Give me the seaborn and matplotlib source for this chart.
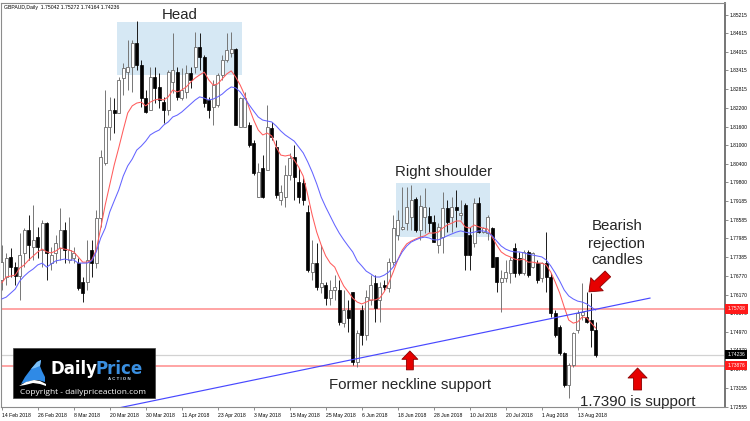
import numpy as np
import pandas as pd
import matplotlib
matplotlib.use("Agg")
import matplotlib.pyplot as plt
import seaborn as sns
from matplotlib.patches import Rectangle, FancyArrowPatch, Polygon
from matplotlib.transforms import Affine2D

# ---------------- data (GBPAUD daily) ----------------
dates = pd.bdate_range("2018-02-14", periods=133)

opens = [
    1.7664, 1.7674, 1.7739, 1.7706, 1.7677, 1.7752, 1.7826, 1.7771, 1.7803, 1.7761,
    1.7848, 1.7719, 1.7752, 1.7768, 1.7826, 1.7729, 1.7735, 1.7719, 1.7658, 1.7658,
    1.7761, 1.7719, 1.7865, 1.8042, 1.8159, 1.8214, 1.8204, 1.8317, 1.8336, 1.8353,
    1.8430, 1.8359, 1.8252, 1.8214, 1.8320, 1.8288, 1.8239, 1.8214, 1.8304, 1.8336,
    1.8252, 1.8272, 1.8333, 1.8353, 1.8417, 1.8385, 1.8246, 1.8223, 1.8230, 1.8327,
    1.8375, 1.8398, 1.8411, 1.8159, 1.8159, 1.8165, 1.8107, 1.7932, 1.8026, 1.8020,
    1.8155, 1.8094, 1.7923, 1.7932, 1.8004, 1.8062, 1.7981, 1.7978, 1.7884, 1.7690,
    1.7719, 1.7642, 1.7648, 1.7606, 1.7632, 1.7632, 1.7525, 1.7567, 1.7626, 1.7399,
    1.7567, 1.7487, 1.7600, 1.7655, 1.7600, 1.7648, 1.7639, 1.7722, 1.7810, 1.7829,
    1.7848, 1.7868, 1.7926, 1.7826, 1.7868, 1.7871, 1.7852, 1.7777, 1.7803, 1.7897,
    1.7868, 1.7900, 1.7874, 1.7907, 1.7810, 1.7784, 1.7913, 1.7819, 1.7816, 1.7832,
    1.7739, 1.7658, 1.7671, 1.7687, 1.7768, 1.7735, 1.7687, 1.7755, 1.7706, 1.7719,
    1.7671, 1.7719, 1.7674, 1.7558, 1.7512, 1.7429, 1.7325, 1.7390, 1.7503, 1.7551,
    1.7545, 1.7535, 1.75042]

highs = [
    1.7777, 1.7752, 1.7768, 1.7722, 1.7816, 1.7832, 1.7874, 1.7907, 1.7836, 1.7858,
    1.7852, 1.7771, 1.7810, 1.7897, 1.7852, 1.7868, 1.7771, 1.7735, 1.7674, 1.7794,
    1.7794, 1.7891, 1.8084, 1.8278, 1.8256, 1.8252, 1.8320, 1.8365, 1.8440, 1.8440,
    1.8501, 1.8375, 1.8278, 1.8353, 1.8353, 1.8333, 1.8256, 1.8343, 1.8462, 1.8353,
    1.8349, 1.8359, 1.8353, 1.8466, 1.8462, 1.8391, 1.8256, 1.8311, 1.8333, 1.8391,
    1.8462, 1.8466, 1.8414, 1.8256, 1.8272, 1.8175, 1.8117, 1.8042, 1.8068, 1.8230,
    1.8175, 1.8117, 1.7971, 1.8036, 1.8075, 1.8100, 1.8026, 1.7994, 1.7907, 1.7794,
    1.7784, 1.7777, 1.7658, 1.7664, 1.7680, 1.7664, 1.7632, 1.7600, 1.7626, 1.7503,
    1.7584, 1.7632, 1.7680, 1.7680, 1.7658, 1.7664, 1.7735, 1.7874, 1.7891, 1.7965,
    1.7965, 1.7971, 1.7932, 1.7939, 1.7962, 1.7900, 1.7874, 1.7848, 1.7949, 1.7923,
    1.7932, 1.7955, 1.7923, 1.7913, 1.7836, 1.7929, 1.7932, 1.7836, 1.7874, 1.7836,
    1.7739, 1.7697, 1.7729, 1.7739, 1.7784, 1.7755, 1.7761, 1.7761, 1.7755, 1.7729,
    1.7722, 1.7819, 1.7687, 1.7567, 1.7519, 1.7432, 1.7396, 1.7496, 1.7567, 1.7655,
    1.7626, 1.7622, 1.75272]

lows = [
    1.7632, 1.7648, 1.7674, 1.7648, 1.7600, 1.7706, 1.7729, 1.7729, 1.7735, 1.7706,
    1.7664, 1.7697, 1.7719, 1.7729, 1.7719, 1.7719, 1.7719, 1.7632, 1.7593, 1.7632,
    1.7674, 1.7703, 1.7836, 1.8036, 1.8117, 1.8139, 1.8204, 1.8262, 1.8278, 1.8272,
    1.8343, 1.8223, 1.8204, 1.8214, 1.8236, 1.8220, 1.8172, 1.8197, 1.8268, 1.8246,
    1.8246, 1.8252, 1.8285, 1.8333, 1.8343, 1.8223, 1.8188, 1.8165, 1.8223, 1.8311,
    1.8369, 1.8385, 1.8165, 1.8159, 1.8159, 1.8094, 1.8004, 1.7932, 1.7929, 1.8020,
    1.8117, 1.7929, 1.7907, 1.7900, 1.7987, 1.7923, 1.7913, 1.7907, 1.7690, 1.7664,
    1.7632, 1.7622, 1.7584, 1.7584, 1.7600, 1.7519, 1.7512, 1.7496, 1.7390, 1.7383,
    1.7454, 1.7471, 1.7584, 1.7529, 1.7529, 1.7632, 1.7626, 1.7713, 1.7794, 1.7826,
    1.7826, 1.7826, 1.7819, 1.7794, 1.7816, 1.7819, 1.7787, 1.7752, 1.7752, 1.7819,
    1.7819, 1.7836, 1.7858, 1.7697, 1.7697, 1.7771, 1.7816, 1.7816, 1.7794, 1.7706,
    1.7626, 1.7561, 1.7658, 1.7655, 1.7674, 1.7680, 1.7680, 1.7674, 1.7703, 1.7655,
    1.7658, 1.7626, 1.7545, 1.7480, 1.7422, 1.7319, 1.7283, 1.7383, 1.7493, 1.7535,
    1.7525, 1.7448, 1.74164]

closes = [
    1.7722, 1.7735, 1.7706, 1.7677, 1.7745, 1.7826, 1.7777, 1.7794, 1.7771, 1.7848,
    1.7752, 1.7745, 1.7784, 1.7826, 1.7761, 1.7761, 1.7752, 1.7639, 1.7622, 1.7729,
    1.7719, 1.7865, 1.8062, 1.8159, 1.8214, 1.8204, 1.8311, 1.8349, 1.8353, 1.8430,
    1.8359, 1.8252, 1.8207, 1.8320, 1.8285, 1.8246, 1.8214, 1.8336, 1.8343, 1.8256,
    1.8278, 1.8333, 1.8311, 1.8417, 1.8385, 1.8236, 1.8214, 1.8294, 1.8327, 1.8375,
    1.8407, 1.8411, 1.8165, 1.8252, 1.8252, 1.8100, 1.8010, 1.8013, 1.7932, 1.8159,
    1.8126, 1.7939, 1.7949, 1.8004, 1.8059, 1.7997, 1.7932, 1.7923, 1.7697, 1.7719,
    1.7642, 1.7655, 1.7606, 1.7632, 1.7642, 1.7529, 1.7567, 1.7542, 1.7399, 1.7493,
    1.7487, 1.7609, 1.7648, 1.7574, 1.7642, 1.7642, 1.7722, 1.7832, 1.7858, 1.7836,
    1.7900, 1.7923, 1.7826, 1.7903, 1.7900, 1.7848, 1.7787, 1.7836, 1.7897, 1.7852,
    1.7900, 1.7891, 1.7881, 1.7745, 1.7745, 1.7913, 1.7819, 1.7832, 1.7868, 1.7706,
    1.7658, 1.7671, 1.7690, 1.7729, 1.7687, 1.7687, 1.7755, 1.7680, 1.7752, 1.7664,
    1.7719, 1.7674, 1.7558, 1.7487, 1.7429, 1.7325, 1.7390, 1.7493, 1.7558, 1.7561,
    1.7529, 1.7503, 1.74236]

ema_fast = [
    1.7655, 1.7674, 1.7677, 1.7680, 1.7703, 1.7713, 1.7729, 1.7742, 1.7755, 1.7764,
    1.7755, 1.7752, 1.7758, 1.7768, 1.7764, 1.7761, 1.7755, 1.7739, 1.7722, 1.7722,
    1.7729, 1.7761, 1.7832, 1.7907, 1.7971, 1.8036, 1.8091, 1.8149, 1.8204, 1.8227,
    1.8236, 1.8239, 1.8227, 1.8239, 1.8246, 1.8249, 1.8246, 1.8256, 1.8278, 1.8272,
    1.8278, 1.8288, 1.8304, 1.8317, 1.8327, 1.8336, 1.8311, 1.8294, 1.8298, 1.8314,
    1.8330, 1.8340, 1.8320, 1.8294, 1.8262, 1.8220, 1.8181, 1.8149, 1.8133, 1.8139,
    1.8130, 1.8094, 1.8068, 1.8065, 1.8068, 1.8052, 1.8029, 1.8000, 1.7939, 1.7874,
    1.7819, 1.7777, 1.7742, 1.7719, 1.7706, 1.7674, 1.7645, 1.7626, 1.7606, 1.7593,
    1.7587, 1.7593, 1.7600, 1.7600, 1.7606, 1.7626, 1.7655, 1.7690, 1.7729, 1.7761,
    1.7781, 1.7790, 1.7797, 1.7803, 1.7807, 1.7816, 1.7816, 1.7819, 1.7832, 1.7842,
    1.7848, 1.7855, 1.7855, 1.7836, 1.7832, 1.7842, 1.7836, 1.7832, 1.7829, 1.7803,
    1.7777, 1.7755, 1.7745, 1.7739, 1.7732, 1.7729, 1.7732, 1.7722, 1.7722, 1.7719,
    1.7719, 1.7713, 1.7690, 1.7658, 1.7622, 1.7577, 1.7535, 1.7525, 1.7529, 1.7545,
    1.7542, 1.7525, 1.7509]

ema_slow = [
    1.7603, 1.7609, 1.7622, 1.7635, 1.7661, 1.7677, 1.7690, 1.7700, 1.7713, 1.7719,
    1.7706, 1.7716, 1.7726, 1.7729, 1.7732, 1.7729, 1.7729, 1.7719, 1.7719, 1.7719,
    1.7726, 1.7755, 1.7800, 1.7832, 1.7884, 1.7920, 1.7955, 1.8000, 1.8033, 1.8055,
    1.8084, 1.8097, 1.8113, 1.8133, 1.8142, 1.8149, 1.8165, 1.8175, 1.8191, 1.8197,
    1.8207, 1.8220, 1.8233, 1.8246, 1.8256, 1.8252, 1.8246, 1.8249, 1.8256, 1.8265,
    1.8278, 1.8288, 1.8285, 1.8272, 1.8252, 1.8230, 1.8210, 1.8191, 1.8181, 1.8178,
    1.8175, 1.8162, 1.8146, 1.8133, 1.8123, 1.8113, 1.8094, 1.8075, 1.8046, 1.8013,
    1.7975, 1.7932, 1.7900, 1.7871, 1.7842, 1.7816, 1.7794, 1.7774, 1.7755, 1.7726,
    1.7710, 1.7693, 1.7684, 1.7674, 1.7674, 1.7680, 1.7690, 1.7706, 1.7729, 1.7755,
    1.7774, 1.7787, 1.7794, 1.7800, 1.7803, 1.7800, 1.7794, 1.7794, 1.7800, 1.7807,
    1.7813, 1.7819, 1.7823, 1.7819, 1.7816, 1.7819, 1.7823, 1.7823, 1.7819, 1.7807,
    1.7790, 1.7774, 1.7764, 1.7758, 1.7755, 1.7755, 1.7752, 1.7748, 1.7745, 1.7742,
    1.7739, 1.7729, 1.7710, 1.7687, 1.7661, 1.7632, 1.7613, 1.7603, 1.7596, 1.7593,
    1.7587, 1.7577, 1.7567]

xtick_pos = [0, 8, 16, 24, 32, 40, 48, 56, 64, 72, 80, 88, 96, 104, 112, 120, 128]
xtick_labels = ["14 Feb 2018", "26 Feb 2018", "8 Mar 2018", "20 Mar 2018", "30 Mar 2018",
                "11 Apr 2018", "23 Apr 2018", "3 May 2018", "15 May 2018", "25 May 2018",
                "6 Jun 2018", "18 Jun 2018", "28 Jun 2018", "10 Jul 2018", "20 Jul 2018",
                "1 Aug 2018", "13 Aug 2018"]
ytick_vals = [1.85215, 1.84615, 1.84015, 1.83415, 1.82815, 1.82200, 1.81600, 1.81000,
              1.80400, 1.79800, 1.79185, 1.78585, 1.77985, 1.77385, 1.76770, 1.76170,
              1.75570, 1.74970, 1.74370, 1.73770, 1.73155, 1.72555]
ytick_labels = [f"{v:.5f}" for v in ytick_vals]

level_lines = [1.75708, 1.73876]
last_price = 1.74236
price_tags = [1.75708, 1.74236, 1.73876]
tag_colors = ["#ff1a1a", "#000000", "#ff1a1a"]

zone_x = [(25.7, 53.3), (87.6, 108.5)]          # Head, Right shoulder (bar index)
zone_p = [(1.8327, 1.8499), (1.7803, 1.7978)]

neck_x = [20.0, 144.1]
neck_p = [1.7233, 1.7606]

header = "GBPAUD,Daily  1.75042 1.75272 1.74164 1.74236"

# ---------------- figure ----------------
sns.set_theme(style="white")
plt.rcParams["font.family"] = ["Liberation Sans", "DejaVu Sans"]

W, H = 750, 421
fig = plt.figure(figsize=(7.5, 4.21), dpi=100)
fig.patch.set_facecolor("white")
ax = fig.add_axes([1 / W, 14 / H, 724 / W, 404 / H])
ax.set_facecolor("white")

x = np.arange(len(opens))
o = np.array(opens); hi = np.array(highs); lo = np.array(lows); c = np.array(closes)
up = c >= o

# zones
for (x0, x1), (p0, p1) in zip(zone_x, zone_p):
    ax.add_patch(Rectangle((x0, p0), x1 - x0, p1 - p0, fc="#d6e8f4", ec="none", zorder=1))

# horizontal levels
for lvl in level_lines:
    ax.axhline(lvl, color="#ff8c8c", lw=1.1, zorder=2)
ax.axhline(last_price, color="#d2d2d2", lw=0.9, zorder=2)

# candles
ax.vlines(x[up], lo[up], hi[up], color="#767676", lw=0.7, zorder=3)
ax.vlines(x[~up], lo[~up], hi[~up], color="#1a1a1a", lw=0.7, zorder=3)
ax.bar(x[up], np.maximum(c - o, 0.00003)[up], bottom=o[up], width=0.62,
       color="white", edgecolor="#6a6a6a", linewidth=0.6, zorder=4)
ax.bar(x[~up], (o - c)[~up], bottom=c[~up], width=0.62,
       color="black", edgecolor="black", linewidth=0.5, zorder=4)

# moving averages
sns.lineplot(x=x, y=ema_fast, color="#ff5c5c", lw=0.75, ax=ax, zorder=5)
sns.lineplot(x=x, y=ema_slow, color="#6464ff", lw=0.75, ax=ax, zorder=5)

# neckline
ax.plot(neck_x, neck_p, color="#4848ff", lw=0.85, zorder=6)

# annotations
fs = 10.8
ax.text(39.6, 1.8509, "Head", ha="center", va="baseline", fontsize=fs, zorder=8)
ax.text(98.1, 1.8000, "Right shoulder", ha="center", va="baseline", fontsize=fs, zorder=8)
ax.text(136.7, 1.7826, "Bearish", ha="center", va="baseline", fontsize=fs, zorder=8)
ax.text(136.7, 1.7768, "rejection", ha="center", va="baseline", fontsize=fs, zorder=8)
ax.text(136.7, 1.7716, "candles", ha="center", va="baseline", fontsize=fs, zorder=8)
ax.text(90.7, 1.7312, "Former neckline support", ha="center", va="baseline", fontsize=fs, zorder=8)
ax.text(141.3, 1.7256, "1.7390 is support", ha="center", va="baseline", fontsize=fs,
        zorder=8, clip_on=False)


def red_arrow(tail, tip, hw, hl, tw):
    ax.add_patch(FancyArrowPatch(
        tail, tip,
        arrowstyle=f"simple,head_length={hl},head_width={hw},tail_width={tw}",
        mutation_scale=10, fc="#e60000", ec="#8a0000", lw=0.6,
        shrinkA=0, shrinkB=0, zorder=9))


red_arrow((90.7, 1.7374), (90.7, 1.7435), 1.15, 0.6, 0.5)
red_arrow((141.3, 1.7309), (141.3, 1.7380), 1.37, 0.72, 0.58)
red_arrow((134.7, 1.7684), (130.5, 1.7626), 1.3, 0.8, 0.58)

# price tags on the right axis
for val, fc in zip(price_tags, tag_colors):
    ax.text(1.0035, val, f"{val:.5f}", transform=ax.get_yaxis_transform(),
            fontsize=3.5, color="white", va="center", ha="left", zorder=12, clip_on=False,
            bbox=dict(boxstyle="square,pad=0.45", fc=fc, ec="none"))

# axes formatting
ax.set_xlim(-0.16, 160.73)
ax.set_ylim(1.7254, 1.85593)
ax.set_xticks(xtick_pos)
ax.set_xticklabels(xtick_labels, ha="left")
ax.set_yticks(ytick_vals)
ax.set_yticklabels(ytick_labels)
ax.yaxis.tick_right()
ax.tick_params(axis="y", right=True, left=False, length=2.2, width=0.5, pad=1.2,
               labelsize=3.5, color="#606060", labelcolor="black")
ax.tick_params(axis="x", bottom=True, length=2.5, width=0.5, pad=1.5,
               labelsize=3.7, color="#606060", labelcolor="black")
ax.set_xlabel(""); ax.set_ylabel("")
ax.grid(False)
for s in ax.spines.values():
    s.set_color("#8c8c8c"); s.set_linewidth(0.8)
ax.spines["right"].set_color("#6a6a6a"); ax.spines["right"].set_linewidth(1.3)

ax.text(0.004, 0.994, header, transform=ax.transAxes, fontsize=3.7, va="top", ha="left",
        color="black", zorder=8)

# ---------------- logo (figure pixel coordinates) ----------------
pix = Affine2D().scale(1 / W, -1 / H).translate(0, 1) + fig.transFigure
fig.add_artist(Rectangle((12.7, 348), 142.3, 50, transform=pix, fc="black",
                         ec="#404040", lw=0.5, zorder=10))
fig.add_artist(Polygon([(21, 384), (25, 377), (31, 369), (37, 362), (41, 360), (40, 366),
                        (42, 371), (45, 377), (45, 382), (38, 380), (30, 381)],
                       closed=True, transform=pix, fc="#2f8ae6", ec="none", zorder=11))
fig.add_artist(Polygon([(31, 369), (37, 362), (41, 360), (40, 366), (35, 368)],
                       closed=True, transform=pix, fc="#7cc0f7", ec="none", zorder=11))
fig.add_artist(Polygon([(19, 386), (26, 382), (34, 380), (40, 381), (46, 384), (46, 386),
                        (40, 384), (33, 383), (25, 385)],
                       closed=True, transform=pix, fc="white", ec="none", zorder=11))
fig.text(50, 374, "Daily", transform=pix, color="white", fontsize=12,
         fontweight="bold", family="DejaVu Sans", ha="left", va="baseline", zorder=12)
fig.text(95.5, 374, "Price", transform=pix, color="#3a8fe0", fontsize=12,
         fontweight="bold", family="DejaVu Sans", ha="left", va="baseline", zorder=12)
fig.text(119, 380.5, "A C T I O N", transform=pix, color="#c8dcef", fontsize=3.2,
         fontweight="bold", ha="center", va="baseline", zorder=12)
fig.text(83.5, 394, "Copyright - dailypriceaction.com", transform=pix, color="white",
         fontsize=6, family=["Open Sans", "DejaVu Sans"], ha="center", va="baseline", zorder=12)

fig.savefig("out.png", dpi=100)
